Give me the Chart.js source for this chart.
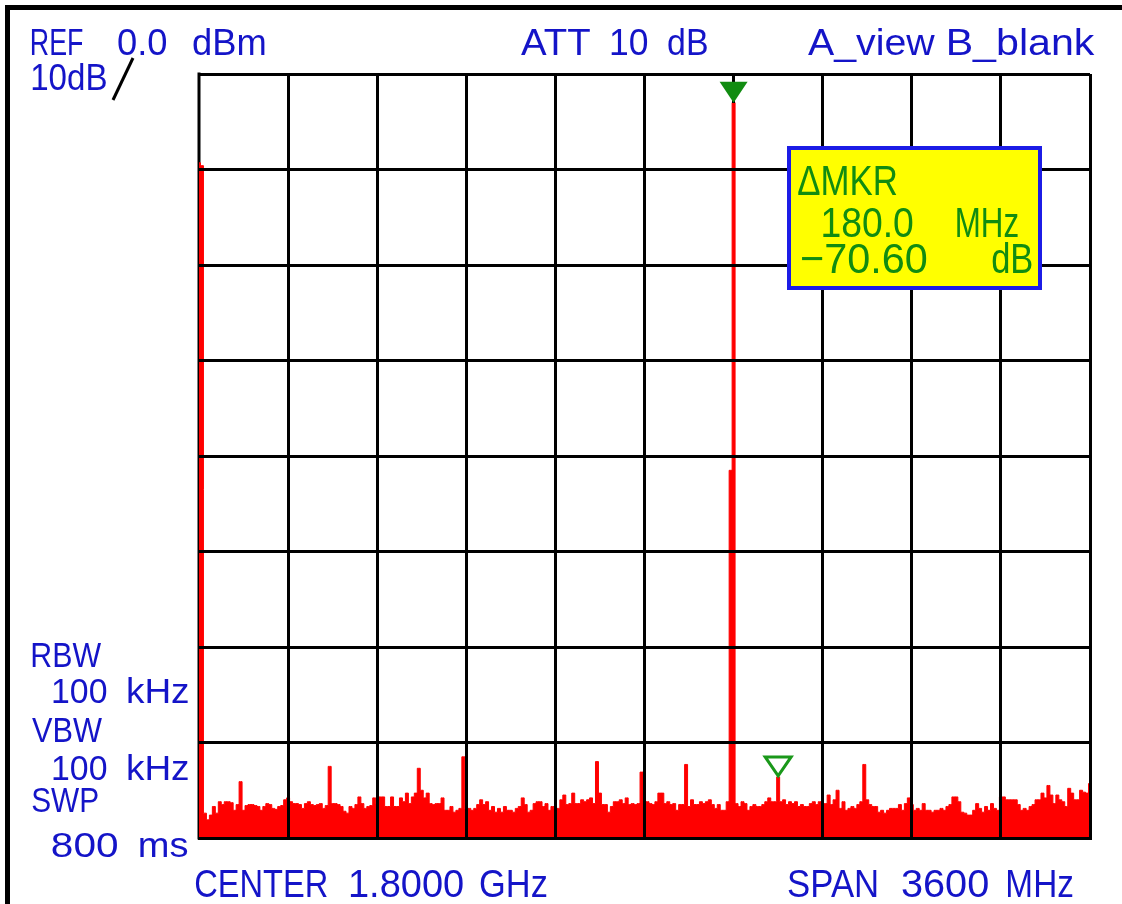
<!DOCTYPE html>
<html>
<head>
<meta charset="utf-8">
<script src="https://cdn.jsdelivr.net/npm/chart.js@4.4.1/dist/chart.umd.min.js"></script>
<style>
html,body{margin:0;padding:0;background:#fff;}
#wrap{position:relative;width:1122px;height:904px;}
</style>
</head>
<body>
<div id="wrap"><canvas id="c" width="1122" height="904"></canvas></div>
<script>
// ---- data ----
const startMHz = 0;
const stopMHz = 3600;
const stepMHz = 12;          // sweep point spacing
const mhzPerDiv = 360;
const refLevelDbm = 0;
const bottomLevelDbm = -80;
const dbPerDiv = 10;

// trace A, dBm, one value per sweep point (0 ... 3600 MHz)
const traceDbm = [
  -9.3, -9.6, -77.4, -78.1, -77.6, -76.7, -77.4, -76.2, -76.5, -76.2,
  -76.2, -76.3, -77.1, -76.5, -74.1, -77.1, -76.6, -76.5, -76.5, -76.6,
  -76.7, -77.1, -76.7, -76.4, -76.5, -76.9, -77.0, -76.7, -76.6, -76.0,
  -75.8, -76.2, -76.4, -76.4, -76.5, -76.9, -76.4, -76.2, -76.5, -76.6,
  -76.5, -76.4, -76.9, -76.6, -72.5, -76.4, -76.4, -76.5, -76.7, -77.2,
  -77.4, -76.7, -76.9, -76.5, -75.7, -76.4, -76.9, -76.7, -76.6, -75.8,
  -76.4, -75.7, -75.7, -76.7, -76.7, -75.7, -76.7, -76.7, -75.8, -76.2,
  -75.3, -76.4, -75.7, -75.3, -72.7, -75.0, -75.8, -75.3, -76.4, -76.5,
  -76.4, -76.4, -75.8, -77.1, -77.1, -76.7, -77.3, -77.1, -76.9, -71.5,
  -76.9, -76.9, -77.1, -76.9, -76.5, -76.0, -76.5, -76.2, -77.1, -76.7,
  -77.3, -76.9, -77.3, -76.7, -77.1, -77.1, -77.3, -76.9, -76.7, -75.8,
  -76.5, -77.3, -77.1, -76.4, -76.2, -76.2, -76.7, -76.4, -77.1, -76.7,
  -76.9, -76.9, -76.0, -75.5, -76.5, -76.4, -75.3, -76.4, -76.4, -76.0,
  -76.2, -76.0, -75.8, -76.4, -72.0, -75.3, -76.5, -76.5, -77.3, -76.7,
  -76.2, -76.2, -76.0, -76.4, -75.8, -76.5, -76.4, -76.5, -76.4, -73.1,
  -76.2, -76.2, -76.4, -76.5, -76.2, -75.3, -75.3, -76.4, -76.2, -76.5,
  -76.4, -77.1, -76.5, -76.5, -72.3, -76.7, -76.0, -76.5, -76.5, -76.2,
  -76.4, -76.2, -76.0, -76.5, -76.9, -76.5, -77.1, -77.1, -76.2, -41.5,
  -3.0, -76.4, -76.7, -76.2, -76.4, -77.1, -76.7, -76.5, -76.7, -76.7,
  -76.5, -76.2, -75.8, -76.2, -76.2, -73.6, -76.2, -76.0, -76.5, -76.2,
  -76.4, -76.2, -76.7, -76.5, -76.7, -76.7, -76.4, -76.2, -76.5, -76.2,
  -76.4, -76.4, -75.5, -76.5, -76.0, -75.0, -76.9, -76.2, -77.1, -76.9,
  -76.7, -76.9, -76.5, -76.2, -72.3, -76.0, -76.5, -76.7, -76.7, -77.3,
  -77.1, -77.4, -77.1, -76.9, -76.9, -76.9, -76.5, -77.1, -76.4, -75.8,
  -76.5, -77.1, -76.9, -77.1, -76.4, -77.1, -77.1, -77.3, -77.1, -77.1,
  -76.9, -77.1, -76.7, -76.5, -75.7, -75.7, -76.2, -77.3, -77.4, -77.6,
  -77.6, -77.1, -76.4, -76.9, -77.3, -76.7, -77.1, -76.4, -76.9, -77.1,
  -75.7, -75.7, -76.0, -76.0, -76.0, -76.0, -76.5, -77.1, -76.9, -77.1,
  -76.7, -76.5, -76.0, -76.0, -75.3, -75.8, -74.5, -75.5, -76.4, -75.5,
  -76.0, -76.2, -76.7, -74.8, -75.3, -76.0, -76.0, -75.0, -75.2, -75.3,
  -74.3
];

// markers: main (filled) and delta (hollow), MHz
const markerFreqsMHz = [2160, 2340];

// text
const headerTexts = ['REF', '0.0', 'dBm', '10dB', 'ATT', '10', 'dB', 'A_view', 'B_blank'];
const sideTexts = ['RBW', '100', 'kHz', 'VBW', '100', 'kHz', 'SWP', '800', 'ms'];
const footerTexts = ['CENTER', '1.8000', 'GHz', 'SPAN', '3600', 'MHz'];
const markerTexts = ['\u0394MKR', '180.0', 'MHz', '\u221270.60', 'dB'];

// ---- layout (pixel placement of the annotation text: [x0, x1, baseline]) ----
const headerPos = [[32,83,55],[118,167,55],[193,265,55],[32,106,90],[521,590,55],[611,648,55],[668,707,55],[808,935,55],[949,1095,55]];
const sidePos = [[32,101,667],[53,107,703],[128,188,703],[32,102,742],[53,107,780],[128,188,780],[32,98,812],[52,118,857],[140,188,857]];
const footerPos = [[195,327,897],[350,463,897],[480,547,897],[788,877,897],[902,988,897],[1008,1073,897]];
const markerPos = [[798,897,195],[823,913,237],[957,1018,237],[802,927,273],[992,1032,273]];

const FONT_FAMILY = '"Liberation Sans Narrow","Liberation Sans",Arial,sans-serif';
const BLUE = '#1414c8';
const GREEN = '#118c11';

function drawToken(ctx, s, p, size, color) {
  ctx.save();
  ctx.font = size + 'px ' + FONT_FAMILY;
  ctx.fillStyle = color;
  ctx.textBaseline = 'alphabetic';
  ctx.textAlign = 'left';
  const m = ctx.measureText(s);
  const w = m.actualBoundingBoxLeft + m.actualBoundingBoxRight;
  const sx = (p[1] - p[0]) / w;
  ctx.translate(p[0], p[2]);
  ctx.scale(sx, 1);
  ctx.fillText(s, m.actualBoundingBoxLeft, 0);
  ctx.restore();
}

// left edge of the graticule, drawn under the trace
const leftEdge = {
  id: 'leftEdge',
  beforeDatasetsDraw(chart) {
    const a = chart.chartArea, ctx = chart.ctx;
    ctx.save();
    ctx.fillStyle = '#000';
    ctx.fillRect(a.left - 1.5, a.top - 1.5, 3, a.bottom - a.top + 3);
    ctx.restore();
  }
};

const overlay = {
  id: 'overlay',
  afterDraw(chart) {
    const ctx = chart.ctx;
    const xs = chart.scales.x, ys = chart.scales.y;
    ctx.save();
    // outer frame
    ctx.fillStyle = '#000';
    ctx.fillRect(5, 5, 1117, 5);
    ctx.fillRect(5, 5, 5, 899);

    headerTexts.forEach((s, i) => drawToken(ctx, s, headerPos[i], 37, BLUE));
    sideTexts.forEach((s, i) => drawToken(ctx, s, sidePos[i], 35, BLUE));
    footerTexts.forEach((s, i) => drawToken(ctx, s, footerPos[i], 38, BLUE));

    // "/" after 10dB
    ctx.strokeStyle = '#000';
    ctx.lineWidth = 3;
    ctx.beginPath();
    ctx.moveTo(133, 58);
    ctx.lineTo(113, 100);
    ctx.stroke();

    // markers, placed on the trace through the scales
    const mFreq = markerFreqsMHz[0];
    const mx = xs.getPixelForValue(mFreq);
    const my = ys.getPixelForValue(traceDbm[Math.round((mFreq - startMHz) / stepMHz)]);
    ctx.fillStyle = GREEN;
    ctx.beginPath();
    ctx.moveTo(mx - 14, my - 21);
    ctx.lineTo(mx + 14, my - 21);
    ctx.lineTo(mx, my);
    ctx.closePath();
    ctx.fill();

    const dFreq = markerFreqsMHz[1];
    const dx = xs.getPixelForValue(dFreq);
    const dy = ys.getPixelForValue(traceDbm[Math.round((dFreq - startMHz) / stepMHz)]);
    ctx.strokeStyle = '#1a981a';
    ctx.lineWidth = 3;
    ctx.beginPath();
    ctx.moveTo(dx - 13, dy - 20);
    ctx.lineTo(dx + 13, dy - 20);
    ctx.lineTo(dx, dy - 1);
    ctx.closePath();
    ctx.stroke();

    // delta marker readout box
    ctx.fillStyle = '#ffff00';
    ctx.fillRect(787, 146, 255, 144);
    ctx.strokeStyle = '#1c1ce6';
    ctx.lineWidth = 4;
    ctx.strokeRect(789, 148, 251, 140);
    markerTexts.forEach((s, i) => drawToken(ctx, s, markerPos[i], 43, GREEN));
    ctx.restore();
  }
};

function xGridColor(c) {
  const v = c.tick ? c.tick.value : null;
  if (v === startMHz) return 'rgba(0,0,0,0)';
  if (v === markerFreqsMHz[0]) {
    const ch = c.chart, a = ch.chartArea;
    if (!a || !ch.scales.y) return '#000';
    const py = ch.scales.y.getPixelForValue(traceDbm[Math.round((v - startMHz) / stepMHz)]);
    const f = Math.max(0, Math.min(1, (py - a.top) / (a.bottom - a.top)));
    const g = ch.ctx.createLinearGradient(0, a.top, 0, a.bottom);
    g.addColorStop(0, '#000');
    g.addColorStop(f, '#000');
    g.addColorStop(Math.min(1, f + 0.0005), 'rgba(0,0,0,0)');
    g.addColorStop(1, 'rgba(0,0,0,0)');
    return g;
  }
  return '#000';
}

new Chart(document.getElementById('c').getContext('2d'), {
  type: 'line',
  data: {
    datasets: [{
      data: traceDbm.map((v, i) => ({ x: startMHz + i * stepMHz, y: v })),
      borderColor: '#ff0000',
      backgroundColor: '#ff0000',
      borderWidth: 1,
      pointRadius: 0,
      stepped: 'middle',
      fill: 'start'
    }]
  },
  options: {
    responsive: false,
    animation: false,
    events: [],
    layout: { padding: { left: 199, top: 74, right: 32, bottom: 66 } },
    plugins: { legend: { display: false }, tooltip: { enabled: false } },
    scales: {
      x: {
        type: 'linear', min: startMHz, max: stopMHz,
        ticks: { display: false, stepSize: mhzPerDiv },
        grid: { color: xGridColor, lineWidth: 3, drawTicks: false, z: 1 },
        border: { display: true, color: '#000', width: 3, z: 1 }
      },
      y: {
        type: 'linear', min: bottomLevelDbm, max: refLevelDbm,
        ticks: { display: false, stepSize: dbPerDiv },
        grid: { color: '#000', lineWidth: 3, drawTicks: false, z: 1 },
        border: { display: false }
      }
    }
  },
  plugins: [leftEdge, overlay]
});
</script>
</body>
</html>
